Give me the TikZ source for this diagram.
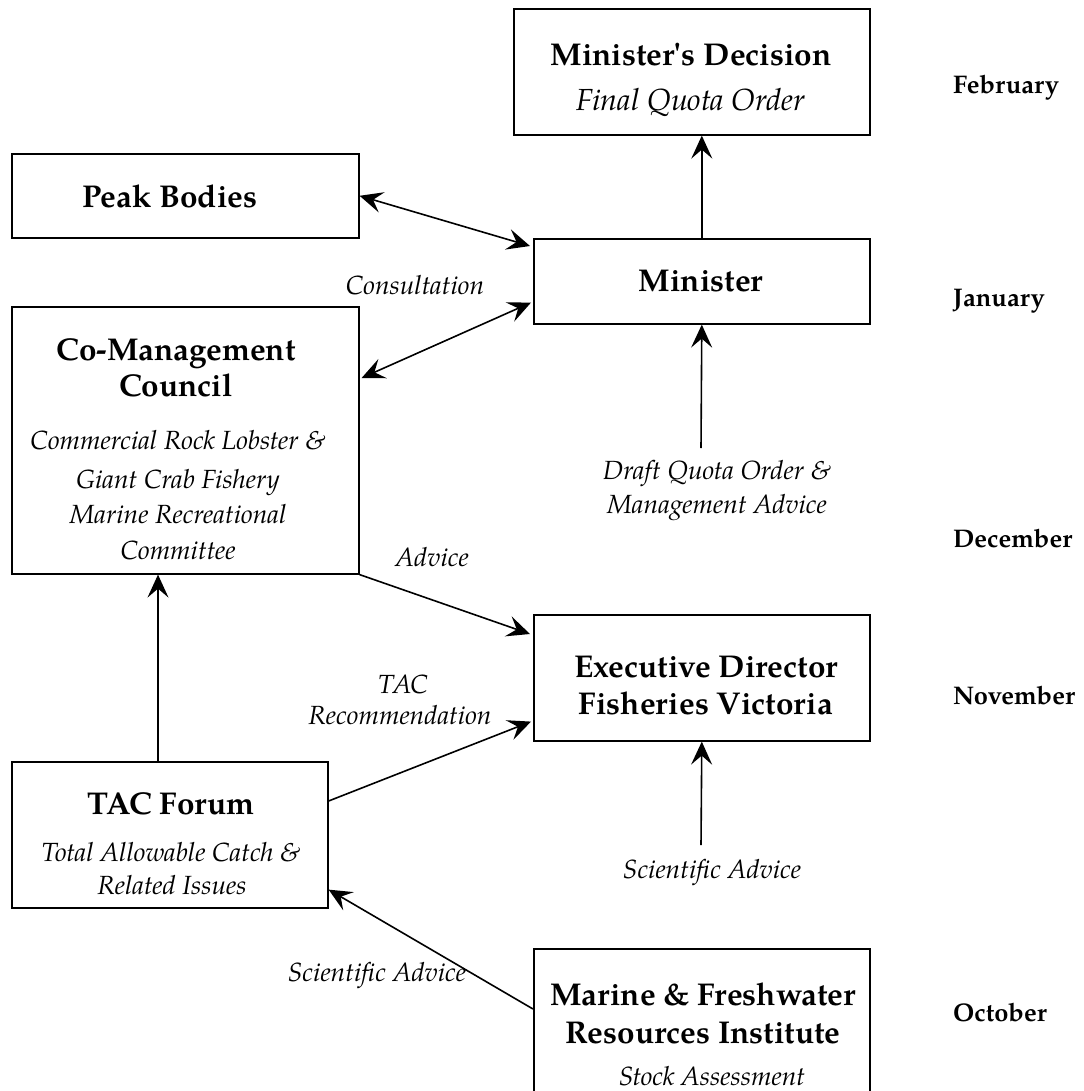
\documentclass[tikz,border=0pt]{standalone}
\usepackage{fontspec}
\setmainfont{texgyrepagella}[Extension=.otf, UprightFont=*-regular, BoldFont=*-bold, ItalicFont=*-italic, BoldItalicFont=*-bolditalic, Ligatures=TeXOff]
\usetikzlibrary{arrows.meta,calc}
\begin{document}
\begin{tikzpicture}[x=1pt,y=-1pt,
  box/.style={draw, line width=1.6pt, anchor=north west, inner sep=0pt},
  ttl/.style={font=\bfseries\fontsize{31.5}{37}\selectfont, inner sep=0pt, text height=21.5pt, text depth=0pt},
  sub/.style={font=\itshape\fontsize{26.3}{33}\selectfont, inner sep=0pt, text height=18pt, text depth=0pt},
  bigsub/.style={font=\itshape\fontsize{30.5}{36}\selectfont, inner sep=0pt, text height=21pt, text depth=0pt},
  month/.style={font=\bfseries\fontsize{25.5}{31}\selectfont, inner sep=0pt, anchor=west, text height=17.5pt, text depth=0pt},
  tip/.tip={Stealth[length=23pt,width=21pt,inset=9pt]},
  arr/.style={line width=1.6pt, -tip},
  darr/.style={line width=1.6pt, tip-tip}
]
\useasboundingbox (0,0) rectangle (1083,1091);
\clip (0,0) rectangle (1083,1091);

% boxes
\node[box, minimum width=356pt, minimum height=126pt] (md) at (513,8) {};
\node[box, minimum width=347pt, minimum height=84pt] (pb) at (11,153) {};
\node[box, minimum width=336pt, minimum height=85pt] (min) at (533,238) {};
\node[box, minimum width=347pt, minimum height=267pt] (cmc) at (11,306) {};
\node[box, minimum width=336pt, minimum height=126pt] (exd) at (533,614) {};
\node[box, minimum width=316pt, minimum height=146pt] (tac) at (11,761) {};
\node[box, minimum width=336pt, minimum height=170pt] (mfri) at (533,948) {};

% box texts
\node[ttl] (mdT) at (691,55) {Minister's Decision};
\node[bigsub] (mdS) at (691,100) {Final Quota Order};
\node[ttl] (pbT) at (170,197) {Peak Bodies};
\node[ttl] (minT) at (701,281) {Minister};
\node[ttl] (cmcT1) at (176,350) {Co-Management};
\node[ttl] (cmcT2) at (176,386) {Council};
\node[sub] (cmcS1) at (178,440) {Commercial Rock Lobster \&};
\node[sub] (cmcS2) at (178,479) {Giant Crab Fishery};
\node[sub] (cmcS3) at (178,514) {Marine Recreational};
\node[sub] (cmcS4) at (178,550) {Committee};
\node[ttl] (exdT1) at (706,667) {Executive Director};
\node[ttl] (exdT2) at (706,704) {Fisheries Victoria};
\node[ttl] (tacT) at (171,804) {TAC Forum};
\node[sub] (tacS1) at (171,852) {Total Allowable Catch \&};
\node[sub] (tacS2) at (172,885) {Related Issues};
\node[ttl] (mfriT1) at (703,995) {Marine \& Freshwater};
\node[ttl] (mfriT2) at (703,1033) {Resources Institute};
\node[sub] (mfriS) at (712,1076) {Stock Assessment};

% months
\node[month] (feb) at (953,85) {February};
\node[month] (jan) at (953,298) {January};
\node[month] (dec) at (953,539) {December};
\node[month] (nov) at (953,696) {November};
\node[month] (oct) at (953,1013) {October};

% connector labels
\node[sub] (lcons) at (415,285) {Consultation};
\node[sub] (ldq1) at (717,470) {Draft Quota Order \&};
\node[sub] (ldq2) at (717,504) {Management Advice};
\node[sub] (ladv) at (432,557) {Advice};
\node[sub] (ltac1) at (403,684) {TAC};
\node[sub] (ltac2) at (400,715) {Recommendation};
\node[sub] (lsci1) at (712,869) {Scientific Advice};
\node[sub] (lsci2) at (377,972) {Scientific Advice};

% connectors
\coordinate (dqa) at (701,448);
\coordinate (sca) at (701,845);
\draw[arr] (min.north) -- (min.north |- md.south);
\draw[darr] (pb.east) -- ($(min.north west)+(-3,8)$);
\draw[darr] ($(cmc.north east)+(2,72)$) -- ($(min.south west)+(-2,-22)$);
\draw[arr] (dqa) -- (min.south);
\draw[arr] (cmc.south east) -- ($(exd.north west)+(-3,20)$);
\draw[arr] ($(tac.north west)+(147,0)$) -- ($(cmc.south west)+(147,0)$);
\draw[arr] ($(tac.north east)+(0,40)$) -- ($(exd.south west)+(-2,-20)$);
\draw[arr] (sca) -- (exd.south);
\draw[arr] ($(mfri.north west)+(0,61)$) -- ($(tac.south east)+(0,-19)$);
\end{tikzpicture}
\end{document}
